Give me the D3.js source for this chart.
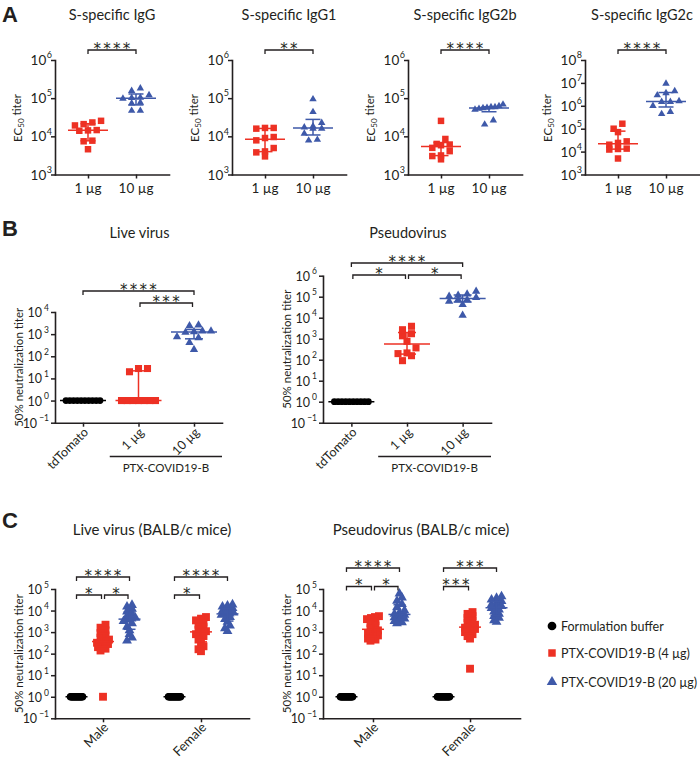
<!DOCTYPE html>
<html><head><meta charset="utf-8">
<script src="https://cdn.jsdelivr.net/npm/d3@7"></script>
<style>body{margin:0;background:#fff}</style>
</head><body>
<svg id="c" width="700" height="762"></svg>
<script>
// ================= DATA =================
// Panel A
const aTitles = ["S-specific IgG", "S-specific IgG1", "S-specific IgG2b", "S-specific IgG2c"];
const aCats = ["1 µg", "10 µg"];
const aSig = ["****", "**", "****", "****"];
const aTopExp = [6, 6, 6, 8];
const igg_1ug   = [25500, 23100, 20900, 19300, 14600, 14300, 14000, 7700, 7420, 4590];
const igg_10ug  = [182000, 155000, 120000, 104000, 102000, 98000, 77000, 73000, 47000, 47000];
const igg1_1ug  = [16600, 15900, 16600, 9600, 9040, 7850, 4940, 4030, 3800, 2980];
const igg1_10ug = [94000, 43600, 22500, 18300, 17250, 15900, 15900, 11750, 8170, 7800];
const igg2b_1ug  = [25400, 8530, 6330, 6100, 5840, 4990, 4090, 3160, 3040, 2500];
const igg2b_10ug = [68500, 62000, 58500, 58500, 56200, 55000, 52900, 50000, 26400, 20500];
const igg2c_1ug  = [165000, 100000, 71000, 28000, 24000, 20000, 13500, 13000, 12300, 5000];
const igg2c_10ug = [9300000, 4400000, 3600000, 2900000, 1600000, 1500000, 1500000, 1000000, 550000, 440000];

// Panel B
const bCats = ["tdTomato", "1 µg", "10 µg"];
const liveTd  = [1, 1, 1, 1, 1, 1, 1, 1, 1, 1];
const live1   = [28, 28, 20, 1, 1, 1, 1, 1, 1, 1];
const live10  = [2570, 2390, 1370, 1370, 1280, 1190, 755, 680, 420, 200];
const pseudoTd = [1, 1, 1, 1, 1, 1, 1, 1, 1, 1];
const pseudo1  = [3900, 2680, 1730, 1370, 750, 365, 210, 195, 155, 90];
const pseudo10 = [180000, 134000, 116000, 104000, 90000, 72000, 72000, 60000, 41600, 12900];
const bLiveSig   = [{a: "tdTomato", b: "10 µg", label: "****", lvl: 2}, {a: "1 µg", b: "10 µg", label: "***", lvl: 1}];
const bPseudoSig = [{a: "tdTomato", b: "10 µg", label: "****", lvl: 2}, {a: "tdTomato", b: "1 µg", label: "*", lvl: 1}, {a: "1 µg", b: "10 µg", label: "*", lvl: 1}];

// Panel C
const cGroups = ["Male", "Female"];
const cSeries = ["Formulation buffer", "PTX-COVID19-B (4 µg)", "PTX-COVID19-B (20 µg)"];
const cLiveMaleBuf  = [1, 1, 1, 1, 1, 1, 1, 1, 1, 1, 1, 1, 1, 1, 1, 1];
const cLiveMale4    = [2200, 1600, 1200, 900, 700, 550, 450, 380, 350, 320, 280, 240, 200, 170, 140, 1];
const cLiveMale20   = [18000, 15000, 12000, 9000, 7000, 5500, 4500, 4200, 3800, 3200, 2500, 1800, 1200, 800, 550, 400];
const cLiveFemaleBuf = [1, 1, 1, 1, 1, 1, 1, 1, 1, 1, 1, 1, 1, 1, 1, 1];
const cLiveFemale4   = [5000, 4200, 3500, 2800, 2200, 1700, 1300, 1100, 950, 800, 650, 450, 320, 220, 160, 130];
const cLiveFemale20  = [19000, 17000, 15000, 13000, 11000, 9500, 8000, 7200, 6800, 6200, 5000, 4000, 3000, 2000, 1500, 1100];
const cPsMaleBuf  = [1, 1, 1, 1, 1, 1, 1, 1, 1, 1, 1, 1, 1, 1, 1, 1];
const cPsMale4    = [5500, 5000, 4500, 4000, 3200, 2600, 2000, 1500, 1200, 1000, 850, 700, 600, 500, 450, 400];
const cPsMale20   = [60000, 40000, 28000, 20000, 14000, 10000, 8000, 7000, 6200, 5500, 4800, 4200, 3600, 3200, 2800, 2500];
const cPsFemaleBuf = [1, 1, 1, 1, 1, 1, 1, 1, 1, 1, 1, 1, 1, 1, 1, 1];
const cPsFemale4   = [8500, 7000, 5500, 4500, 3500, 2800, 2200, 1800, 1600, 1400, 1200, 1000, 800, 650, 500, 20];
const cPsFemale20  = [45000, 38000, 32000, 27000, 22000, 19000, 16000, 14000, 13000, 11000, 9000, 7000, 5500, 4500, 3500, 3000];
const cLiveSig = [
  {g: "Male", a: 0, b: 2, label: "****", lvl: 2}, {g: "Male", a: 0, b: 1, label: "*", lvl: 1}, {g: "Male", a: 1, b: 2, label: "*", lvl: 1},
  {g: "Female", a: 0, b: 2, label: "****", lvl: 2}, {g: "Female", a: 0, b: 1, label: "*", lvl: 1}];
const cPsSig = [
  {g: "Male", a: 0, b: 2, label: "****", lvl: 2}, {g: "Male", a: 0, b: 1, label: "*", lvl: 1}, {g: "Male", a: 1, b: 2, label: "*", lvl: 1},
  {g: "Female", a: 0, b: 2, label: "***", lvl: 2}, {g: "Female", a: 0, b: 1, label: "***", lvl: 1}];

// ================= STYLE =================
const FONT = "Lato, 'Open Sans', sans-serif";
const INK = "#231f20";
const RED = "#ED3124", BLUE = "#3E59A9", BLACK = "#000000";
const SHAPES = [d3.symbolCircle, d3.symbolSquare, d3.symbolTriangle];
const COLORS = [BLACK, RED, BLUE];

const svg = d3.select("#c");

function quant(vals, p) {
  const s = [...vals].sort((a, b) => a - b), n = s.length;
  const h = (n + 1) * p;
  if (h <= 1) return s[0];
  if (h >= n) return s[n - 1];
  const lo = Math.floor(h);
  return s[lo - 1] + (h - lo) * (s[lo] - s[lo - 1]);
}

function swarm(vals, y, cx, o) {
  const pts = vals.map(v => ({v, py: y(v)})).sort((a, b) => a.py - b.py);
  const rows = []; let cur = null;
  for (const p of pts) {
    if (!cur || p.py - cur[0].py > o.rowGap) { cur = [p]; rows.push(cur); } else cur.push(p);
  }
  rows.forEach(r => {
    r.reverse();
    const k = r.length, sp = k > 1 ? Math.min(o.space, o.maxW / (k - 1)) : 0;
    r.forEach((p, i) => { p.px = cx + (i - (k - 1) / 2) * sp; });
  });
  return pts;
}

function drawGroup(g, vals, y, cx, si, o) {
  const pts = swarm(vals, y, cx, o);
  const sizes = [o.circ, o.sq, o.tri];
  g.append("g").selectAll("path").data(pts).enter().append("path")
    .attr("transform", p => `translate(${p.px},${p.py})`)
    .attr("d", d3.symbol().type(SHAPES[si]).size(sizes[si]))
    .attr("fill", COLORS[si]);
  const med = quant(vals, 0.5), q1 = quant(vals, 0.25), q3 = quant(vals, 0.75);
  const lg = g.append("g").attr("stroke", COLORS[si]).attr("stroke-width", 1.5).attr("fill", "none");
  lg.append("line").attr("x1", cx - o.medHalf).attr("x2", cx + o.medHalf).attr("y1", y(med)).attr("y2", y(med));
  if (q3 > q1) {
    lg.append("line").attr("x1", cx).attr("x2", cx).attr("y1", y(q1)).attr("y2", y(q3));
    lg.append("line").attr("x1", cx - o.capHalf).attr("x2", cx + o.capHalf).attr("y1", y(q1)).attr("y2", y(q1));
    lg.append("line").attr("x1", cx - o.capHalf).attr("x2", cx + o.capHalf).attr("y1", y(q3)).attr("y2", y(q3));
  }
}

function styleAxis(ax) {
  ax.select(".domain").attr("stroke", INK).attr("stroke-width", 1.6).attr("stroke-linecap", "square");
  ax.selectAll(".tick line").attr("stroke", INK).attr("stroke-width", 1.5);
}

function yAxis(g, y, x0, exps, o) {
  const ax = g.append("g").attr("transform", `translate(${x0},0)`)
    .call(d3.axisLeft(y).tickValues(exps.map(e => Math.pow(10, e))).tickSize(4).tickSizeOuter(0).tickFormat(() => ""));
  styleAxis(ax);
  ax.selectAll(".tick").append("text").each(function(d) {
    const e = Math.round(Math.log10(d));
    const t = d3.select(this).attr("x", -o.lx).attr("y", o.ly).attr("text-anchor", "end")
      .attr("fill", INK).attr("font-family", FONT).attr("font-size", o.fs);
    t.append("tspan").text("10");
    t.append("tspan").attr("dx", o.sdx).attr("dy", -o.fs * 0.5).attr("font-size", o.ss).text(e < 0 ? "\u2212" + (-e) : String(e));
  });
}

function xAxis(g, x, y0) {
  const ax = g.append("g").attr("transform", `translate(0,${y0})`)
    .call(d3.axisBottom(x).tickSize(4).tickSizeOuter(0).tickFormat(() => ""));
  styleAxis(ax);
  return ax;
}

function text(g, x, y, s, size, anchor = "middle", weight = "normal", family = FONT) {
  return g.append("text").attr("x", x).attr("y", y).attr("text-anchor", anchor)
    .attr("font-family", family).attr("font-size", size).attr("font-weight", weight).attr("fill", INK).text(s);
}

function yLabel(g, x, y, parts, size) {
  const t = g.append("text").attr("transform", `translate(${x},${y}) rotate(-90)`).attr("text-anchor", "middle")
    .attr("font-family", FONT).attr("font-size", size).attr("fill", INK);
  parts.forEach(p => {
    const s = t.append("tspan").text(p.t);
    if (p.dy) s.attr("dy", p.dy);
    if (p.fs) s.attr("font-size", p.fs);
  });
}

function bracket(g, xa, xb, yb, label) {
  g.append("path").attr("d", `M${xa},${yb + 4}V${yb}H${xb}V${yb + 4}`)
    .attr("fill", "none").attr("stroke", INK).attr("stroke-width", 1.3);
  g.append("text").attr("x", (xa + xb) / 2 + 1).attr("y", yb + 3.8).attr("text-anchor", "middle")
    .attr("font-family", "'DejaVu Sans', sans-serif").attr("font-size", 15).attr("letter-spacing", 2.3)
    .attr("fill", INK).text(label);
}

// Panel letters
text(svg, 2, 22, "A", 22, "start", "bold", "'Liberation Sans', Arial, sans-serif");
text(svg, 2, 236, "B", 22, "start", "bold", "'Liberation Sans', Arial, sans-serif");
text(svg, 2, 528, "C", 22, "start", "bold", "'Liberation Sans', Arial, sans-serif");

// ================= PANEL A =================
const aData = [[igg_1ug, igg_10ug], [igg1_1ug, igg1_10ug], [igg2b_1ug, igg2b_10ug], [igg2c_1ug, igg2c_10ug]];
const aX0 = [55, 232, 408, 585];
const optA = {space: 8.7, maxW: 28, rowGap: 5.5, medHalf: 20, capHalf: 7.5, sq: 42, tri: 24, circ: 33};
aX0.forEach((x0, i) => {
  const g = svg.append("g");
  const x = d3.scalePoint().domain(aCats).range([x0, x0 + 114]).padding(0.6875);
  const y = d3.scaleLog().domain([1e3, Math.pow(10, aTopExp[i])]).range([174.5, 60]);
  const exps = d3.range(3, aTopExp[i] + 1);
  aCats.forEach((c, j) => drawGroup(g, aData[i][j], y, x(c), j + 1, optA));
  yAxis(g, y, x0, exps, {lx: 3, ly: 4.5, fs: 13.5, ss: 9, sdx: 0.5});
  xAxis(g, x, 174.5);
  aCats.forEach(c => text(g, x(c), 193, c, 13.5));
  text(g, x0 + 57, 20, aTitles[i], 14.5);
  yLabel(g, x0 - 33, 118, [{t: "EC"}, {t: "50", dy: "0.3em", fs: 8}, {t: " titer", dy: "-0.3em"}], 11.5);
  bracket(g, x(aCats[0]), x(aCats[1]), 50, aSig[i]);
});

// ================= PANEL B =================
const optB = {space: 9, maxW: 34, rowGap: 6, medHalf: 23, capHalf: 9, sq: 50, tri: 30, circ: 36};
function panelB(x0, x1, pad, topExp, yTop, title, series, sig, sigY) {
  const g = svg.append("g");
  const x = d3.scalePoint().domain(bCats).range([x0, x1]).padding(pad);
  const y = d3.scaleLog().domain([0.1, Math.pow(10, topExp)]).range([422.7, yTop]);
  bCats.forEach((c, j) => drawGroup(g, series[j], y, x(c), j, optB));
  yAxis(g, y, x0, d3.range(-1, topExp + 1), {lx: 6, ly: 4.5, fs: 12.5, ss: 8.5, sdx: 2});
  xAxis(g, x, 422.7);
  bCats.forEach(c => {
    g.append("text").attr("transform", `translate(${x(c) + 3},${430}) rotate(-45)`)
      .attr("text-anchor", "end").attr("dy", "0.35em").attr("font-family", FONT).attr("font-size", 12.5).attr("fill", INK).text(c);
  });
  const lx0 = (x(bCats[0]) + x(bCats[1])) / 2 - 1;
  g.append("line").attr("x1", lx0).attr("x2", x1).attr("y1", 456.5).attr("y2", 456.5).attr("stroke", INK).attr("stroke-width", 1.3);
  text(g, (lx0 + x1) / 2, 472, "PTX-COVID19-B", 11.5);
  text(g, (x0 + x1) / 2 + 1, 238, title, 14.5);
  yLabel(g, x0 - 32, (422.7 + yTop) / 2, [{t: "50% neutralization titer"}], 11.5);
  sig.forEach(s => {
    const sh = s.lvl === 1 ? 1.5 : 0;
    bracket(g, x(s.a) + sh, x(s.b) - sh, sigY[s.lvl], s.label);
  });
}
panelB(55, 222, 0.5045, 4, 312, "Live virus", [liveTd, live1, live10], bLiveSig, {1: 303, 2: 291});
panelB(323, 491, 0.51, 6, 275.7, "Pseudovirus", [pseudoTd, pseudo1, pseudo10], bPseudoSig, {1: 275, 2: 263});

// ================= PANEL C =================
const optC = {space: 5, maxW: 12, rowGap: 3.5, medHalf: 11, capHalf: 6, sq: 62, tri: 42, circ: 44};
function panelC(x0, x1, pad, title, titleX, groupsData, sig, sigY) {
  const g = svg.append("g");
  const x = d3.scalePoint().domain(cGroups).range([x0, x1]).padding(pad);
  const xi = d3.scalePoint().domain([0, 1, 2]).range([-26.5, 26.5]);
  const y = d3.scaleLog().domain([0.1, 1e5]).range([718.3, 589]);
  cGroups.forEach((grp, gi) => {
    [0, 1, 2].forEach(si => drawGroup(g, groupsData[gi][si], y, x(grp) + xi(si), si, optC));
  });
  yAxis(g, y, x0, d3.range(-1, 6), {lx: 6, ly: 4.5, fs: 12.5, ss: 8.5, sdx: 2});
  xAxis(g, x, 718.3);
  cGroups.forEach(c => {
    g.append("text").attr("transform", `translate(${x(c) + 3},${725}) rotate(-45)`)
      .attr("text-anchor", "end").attr("dy", "0.35em").attr("font-family", FONT).attr("font-size", 13).attr("fill", INK).text(c);
  });
  text(g, titleX, 535, title, 15);
  yLabel(g, x0 - 32, (718.3 + 589) / 2, [{t: "50% neutralization titer"}], 11.5);
  sig.forEach(s => {
    const sh = s.lvl === 1 ? 1.5 : 0;
    const base = x(s.g);
    bracket(g, base + xi(s.a) + (s.a > 0 ? sh : 0), base + xi(s.b) - sh, sigY[s.lvl], s.label);
  });
}
panelC(55, 249, 0.49, "Live virus (BALB/c mice)", 152,
  [[cLiveMaleBuf, cLiveMale4, cLiveMale20], [cLiveFemaleBuf, cLiveFemale4, cLiveFemale20]], cLiveSig, {1: 595, 2: 577});
panelC(323, 520, 0.515, "Pseudovirus (BALB/c mice)", 421,
  [[cPsMaleBuf, cPsMale4, cPsMale20], [cPsFemaleBuf, cPsFemale4, cPsFemale20]], cPsSig, {1: 586.5, 2: 568});

// Legend
const leg = svg.append("g");
const legY = [626, 653, 682];
const legSizes = [60, 56, 48];
cSeries.forEach((s, i) => {
  leg.append("path").attr("transform", `translate(552,${legY[i]})`)
    .attr("d", d3.symbol().type(SHAPES[i]).size(legSizes[i])).attr("fill", COLORS[i]);
  text(leg, 561, legY[i] + 4.5, s, 12.5, "start");
});
</script>
</body></html>
